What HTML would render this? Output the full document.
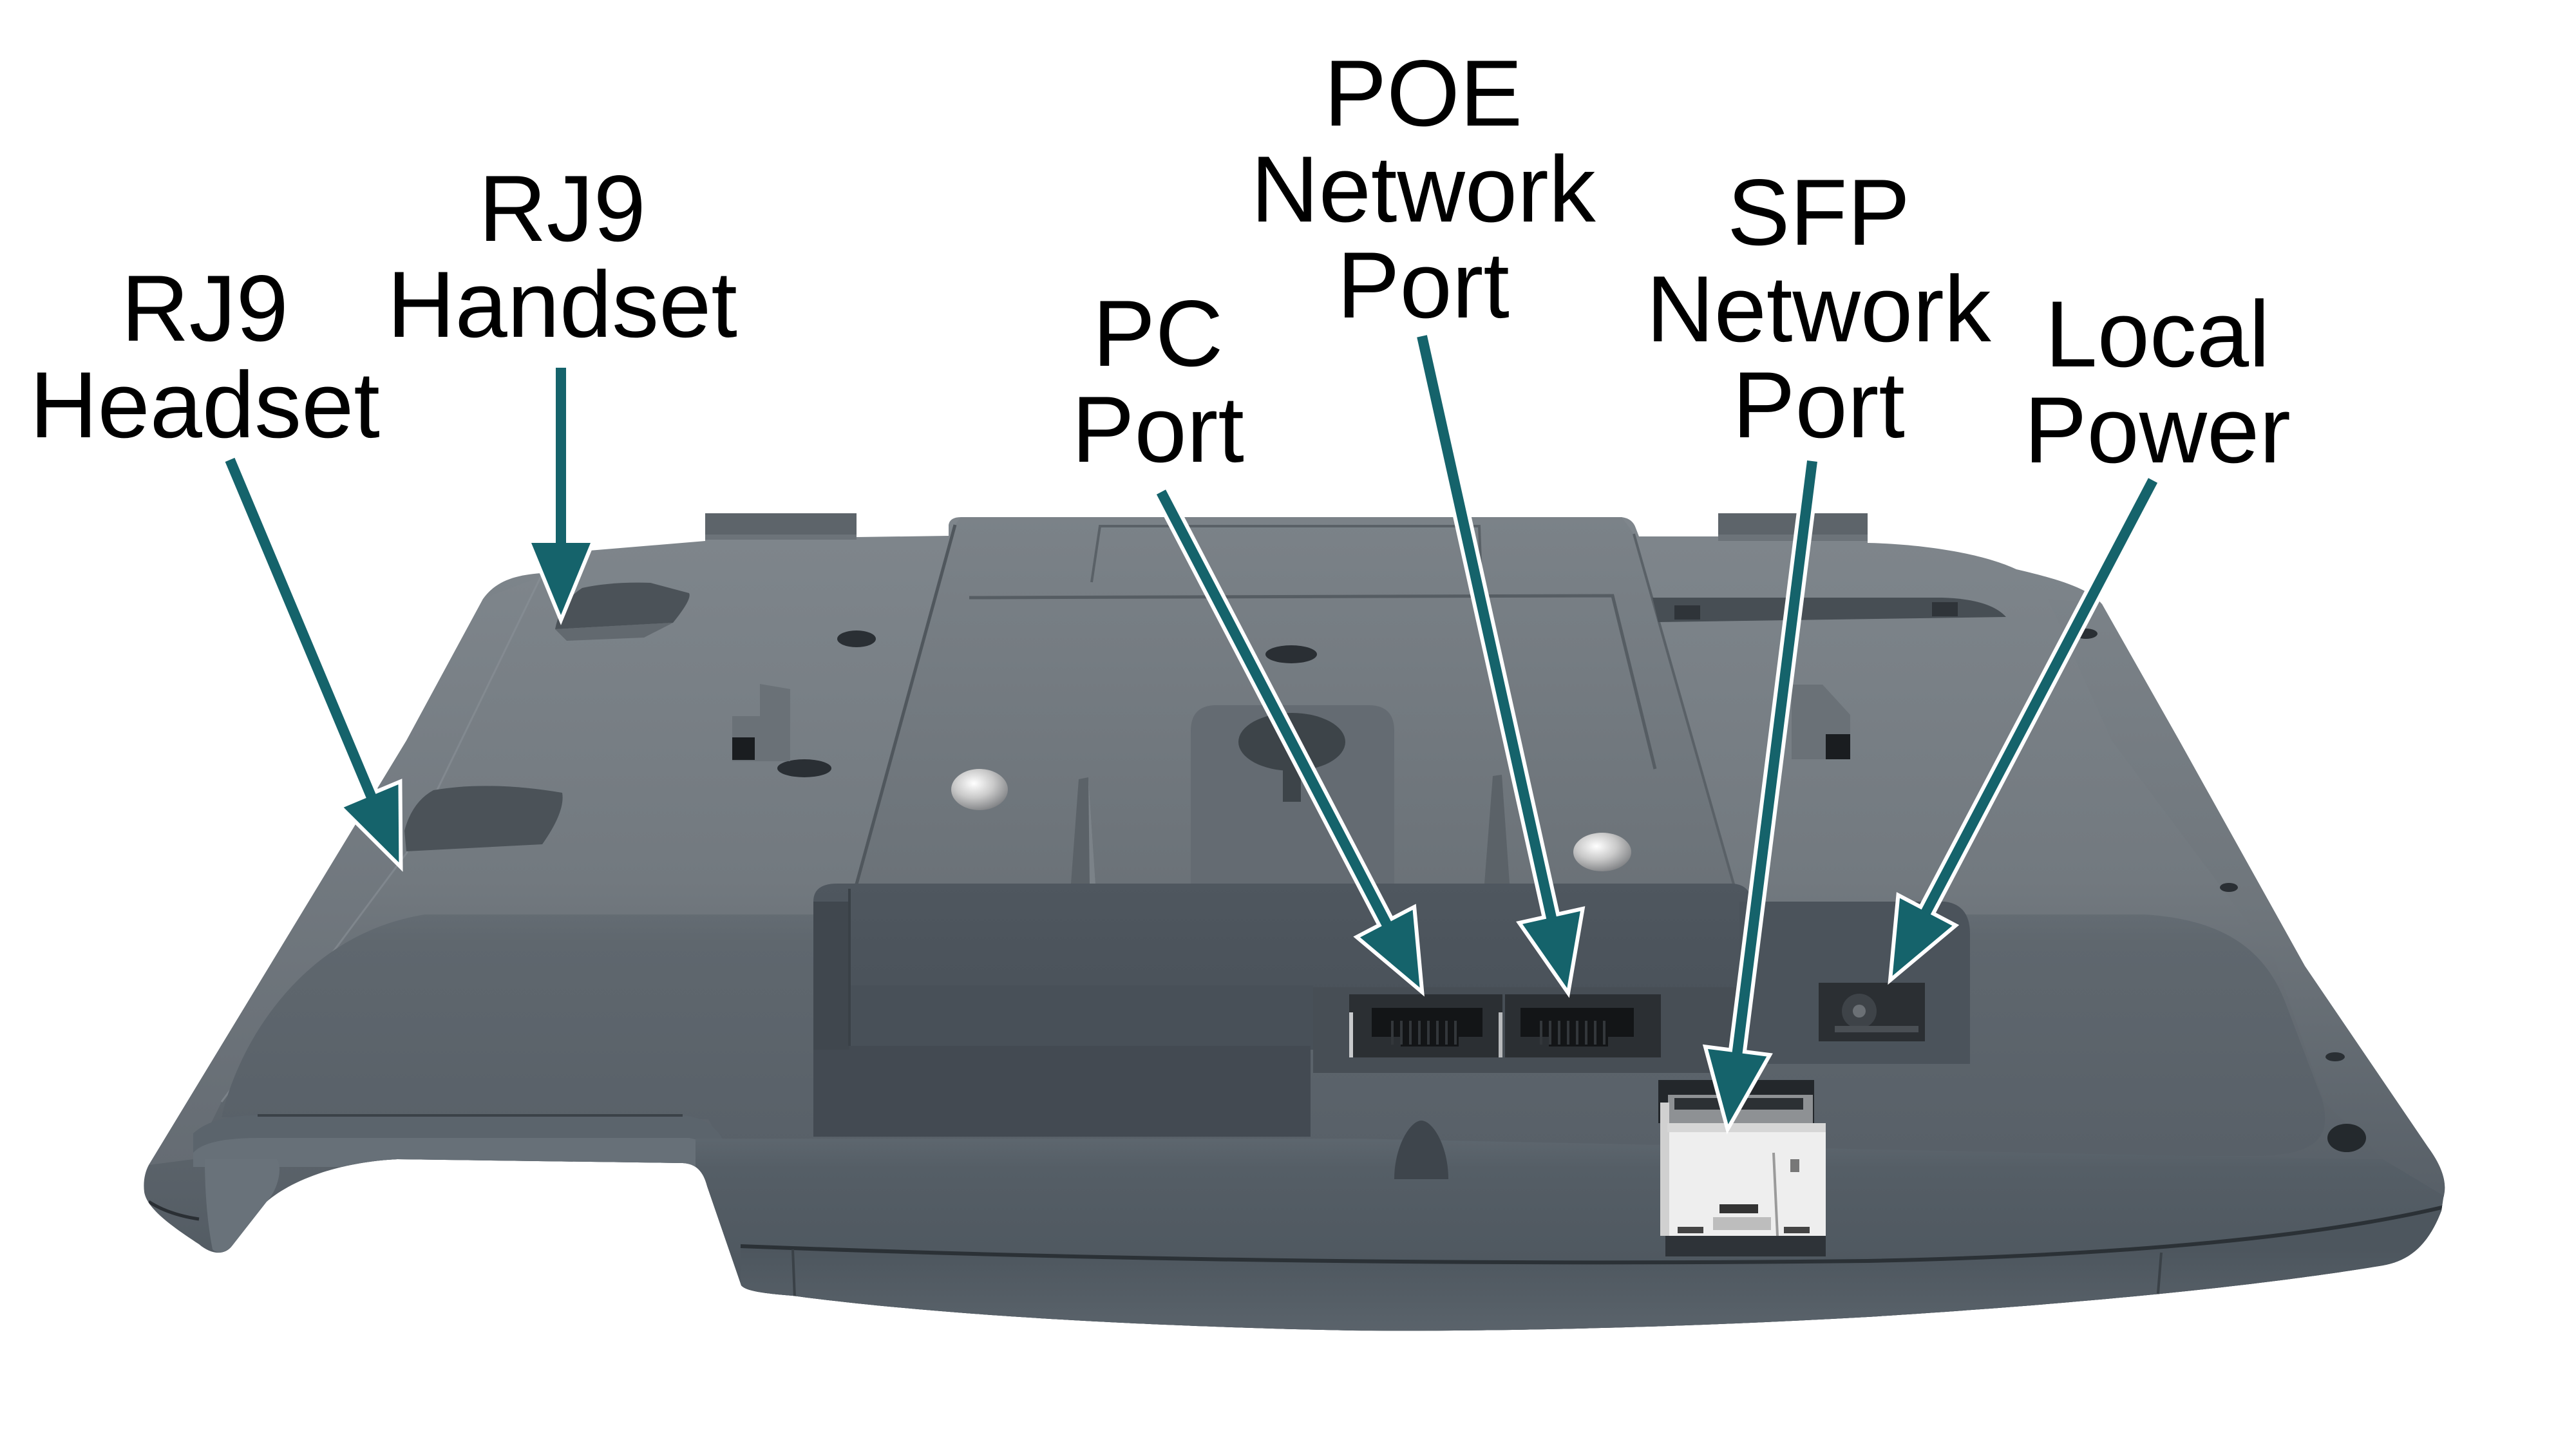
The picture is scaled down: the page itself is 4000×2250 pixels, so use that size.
<!DOCTYPE html>
<html><head><meta charset="utf-8">
<style>
html,body{margin:0;padding:0;background:#fff;}
svg{display:block;}
.lbl{font-family:"Liberation Sans",Arial,sans-serif;font-size:146px;fill:#000;text-anchor:middle;}
</style></head><body>
<svg width="4000" height="2250" viewBox="0 0 4000 2250" xmlns="http://www.w3.org/2000/svg">
<defs>
<linearGradient id="shell" x1="0" y1="797" x2="0" y2="2066" gradientUnits="userSpaceOnUse">
 <stop offset="0" stop-color="#7f868c"/>
 <stop offset="0.45" stop-color="#72797f"/>
 <stop offset="0.62" stop-color="#646b72"/>
 <stop offset="1" stop-color="#4e575f"/>
</linearGradient>
<linearGradient id="bulge" x1="0" y1="1418" x2="0" y2="1795" gradientUnits="userSpaceOnUse">
 <stop offset="0" stop-color="#646c73"/>
 <stop offset="0.12" stop-color="#5f676e"/>
 <stop offset="1" stop-color="#586068"/>
</linearGradient>
<linearGradient id="front" x1="0" y1="1765" x2="0" y2="1960" gradientUnits="userSpaceOnUse">
 <stop offset="0" stop-color="#5e676f"/>
 <stop offset="0.25" stop-color="#555e66"/>
 <stop offset="1" stop-color="#4f5860"/>
</linearGradient>
<linearGradient id="bottom" x1="0" y1="1940" x2="0" y2="2066" gradientUnits="userSpaceOnUse">
 <stop offset="0" stop-color="#4d565e"/>
 <stop offset="1" stop-color="#5a636b"/>
</linearGradient>
<linearGradient id="rimL" x1="0" y1="900" x2="0" y2="1810" gradientUnits="userSpaceOnUse">
 <stop offset="0" stop-color="#7e858b"/>
 <stop offset="1" stop-color="#656c73"/>
</linearGradient>
<linearGradient id="rimR" x1="0" y1="930" x2="0" y2="1870" gradientUnits="userSpaceOnUse">
 <stop offset="0" stop-color="#7b8288"/>
 <stop offset="0.5" stop-color="#6f767c"/>
 <stop offset="1" stop-color="#575f67"/>
</linearGradient>
<linearGradient id="plate" x1="0" y1="803" x2="0" y2="1372" gradientUnits="userSpaceOnUse">
 <stop offset="0" stop-color="#7b8288"/>
 <stop offset="1" stop-color="#6b7278"/>
</linearGradient>
<linearGradient id="blockTop" x1="0" y1="1372" x2="0" y2="1624" gradientUnits="userSpaceOnUse">
 <stop offset="0" stop-color="#4f575f"/>
 <stop offset="1" stop-color="#485058"/>
</linearGradient>
<radialGradient id="screw" cx="0.4" cy="0.35" r="0.7">
 <stop offset="0" stop-color="#ffffff"/>
 <stop offset="0.5" stop-color="#c9c9c9"/>
 <stop offset="1" stop-color="#7d7f82"/>
</radialGradient>
<clipPath id="bodyClip">
 <path id="bodyPath" d="M 750 930 C 770 902 800 893 840 890 C 870 883 890 860 915 855 L 1095 840 L 1095 797 L 1330 797 L 1330 834 L 1473 832 L 1473 815 Q 1475 803 1492 803 L 2518 803 Q 2535 805 2540 820 L 2545 833 L 2668 833 L 2668 797 L 2900 797 L 2900 843 C 2990 845 3080 860 3131 884 C 3200 900 3245 915 3264 938 L 3384 1150 L 3579 1500 L 3770 1781 C 3795 1815 3800 1840 3794 1860 L 3791 1880 C 3770 1935 3740 1958 3700 1965 C 3550 1990 3300 2020 2900 2045 C 2600 2062 2300 2068 2100 2066 C 1700 2058 1400 2035 1231 2012 C 1180 2008 1158 2004 1151 1996 L 1098 1842 C 1092 1818 1080 1807 1060 1806 L 617 1800 C 520 1805 450 1835 414 1866 L 360 1935 C 350 1948 330 1950 309 1932 C 260 1900 228 1875 224 1851 C 222 1835 225 1820 231 1809 L 631 1150 Z"/>
</clipPath>
</defs>

<rect width="4000" height="2250" fill="#ffffff"/>

<!-- body -->
<g clip-path="url(#bodyClip)">
 <rect x="0" y="780" width="4000" height="1300" fill="url(#shell)"/>
 <!-- left rim -->
 <path d="M 750 930 L 631 1150 L 231 1809 L 300 1800 L 344 1711 L 631 1325 L 840 895 Z" fill="url(#rimL)"/>
 <path d="M 344 1711 L 631 1325 L 840 895" fill="none" stroke="#8a9197" stroke-width="3" opacity="0.6"/>
 <!-- right rim -->
 <path d="M 3180 930 L 3264 938 L 3384 1150 L 3579 1500 L 3770 1781 C 3795 1815 3800 1840 3794 1860 L 3700 1800 L 3609 1711 L 3531 1487 L 3279 1150 Z" fill="url(#rimR)"/>
 <!-- lower bulge -->
 <path d="M 344 1735 C 370 1620 470 1450 660 1420 L 3330 1420 C 3460 1428 3520 1480 3550 1560 L 3605 1705 C 3625 1770 3590 1795 3500 1795 L 1130 1795 L 1100 1738 Z" fill="url(#bulge)"/>
 <!-- lip -->
 <path d="M 300 1760 Q 330 1732 400 1732 L 1060 1732 Q 1100 1735 1120 1765 L 1140 1800 L 1100 1810 L 300 1810 Z" fill="#5b646c"/>
 <path d="M 300 1790 Q 320 1767 400 1767 L 1070 1767 Q 1100 1772 1115 1800 L 1100 1812 L 300 1812 Z" fill="#677078"/>
 <path d="M 400 1732 L 1060 1732" stroke="#3b4248" stroke-width="4" fill="none"/>
 <!-- foot inner face -->
 <path d="M 318 1800 L 430 1800 C 440 1815 430 1850 414 1866 L 360 1935 C 350 1945 338 1948 330 1940 C 322 1900 318 1850 318 1800 Z" fill="#69727a"/>
 <path d="M 231 1866 Q 262 1886 309 1893" stroke="#2a2f34" stroke-width="5" fill="none"/>
 <!-- front band -->
 <path d="M 1080 1768 L 2100 1768 L 3400 1795 L 3700 1800 L 3800 1860 L 3800 2250 L 1080 2250 Z" fill="url(#front)"/>
 <!-- bottom piece -->
 <path d="M 1150 1935 Q 2000 1968 2900 1958 Q 3500 1945 3800 1873 L 3800 2250 L 1150 2250 Z" fill="url(#bottom)"/>
 <path d="M 1150 1935 Q 2000 1968 2900 1958 Q 3500 1945 3800 1873" stroke="#2b3136" stroke-width="6" fill="none"/>
 <path d="M 1231 1940 L 1234 2015" stroke="#3a4147" stroke-width="4"/>
 <path d="M 3356 1945 L 3350 2020" stroke="#3a4147" stroke-width="4"/>

 <!-- plate -->
 <path d="M 1483 815 L 1492 803 L 2518 803 L 2537 829 L 2694 1372 L 1328 1372 Z" fill="url(#plate)"/>
 <path d="M 1483 815 L 1328 1380" stroke="#50575d" stroke-width="5" fill="none"/>
 <path d="M 2537 829 L 2694 1380" stroke="#5a6167" stroke-width="4" fill="none"/>
 <path d="M 1505 928 L 2504 925 L 2570 1194" stroke="#565d63" stroke-width="5" fill="none"/>
 <path d="M 1695 904 L 1708 817 L 2297 817 L 2300 900" stroke="#5a6167" stroke-width="4" fill="none"/>

 <!-- tabs -->
 <rect x="1095" y="797" width="235" height="40" fill="#5d646a"/>
 <rect x="1095" y="830" width="235" height="8" fill="#6c7379"/>
 <rect x="2668" y="797" width="232" height="40" fill="#5d646a"/>
 <rect x="2668" y="830" width="232" height="10" fill="#6c7379"/>

 <!-- right groove -->
 <path d="M 2566 928 L 3015 928 Q 3090 930 3115 958 L 2575 966 Z" fill="#474e54"/>
 <rect x="2600" y="940" width="40" height="22" fill="#2f3439"/>
 <rect x="3000" y="935" width="40" height="22" fill="#2f3439"/>

 <!-- handset/headset slots -->
 <path d="M 904 913 Q 950 903 1010 905 L 1070 921 Q 1075 930 1045 967 L 862 977 Q 870 935 904 913 Z" fill="#4b5258"/>
 <path d="M 862 977 L 1045 967 L 1000 990 L 880 995 Z" fill="#62696f"/>
 <path d="M 673 1227 Q 760 1212 873 1231 Q 878 1260 842 1311 L 631 1322 L 628 1290 Q 640 1245 673 1227 Z" fill="#4b5258"/>

 <!-- holes -->
 <ellipse cx="1330" cy="992" rx="30" ry="13" fill="#2a2f34"/>
 <ellipse cx="1249" cy="1193" rx="42" ry="14" fill="#2a2f34"/>
 <ellipse cx="2005" cy="1016" rx="40" ry="14" fill="#2a2f34"/>
 <ellipse cx="3239" cy="984" rx="18" ry="8" fill="#2a2f34"/>
 <ellipse cx="3461" cy="1378" rx="14" ry="7" fill="#2a2f34"/>
 <ellipse cx="3626" cy="1641" rx="15" ry="7" fill="#2a2f34"/>
 <ellipse cx="3644" cy="1767" rx="30" ry="22" fill="#24292d"/>

 <!-- hooks -->
 <path d="M 1180 1062 L 1227 1070 L 1227 1182 L 1137 1182 L 1137 1112 L 1180 1112 Z" fill="#6a7177"/>
 <rect x="1137" y="1145" width="35" height="35" fill="#1a1d20"/>
 <path d="M 2782 1063 L 2830 1063 L 2873 1110 L 2873 1179 L 2782 1179 Z" fill="#6a7177"/>
 <rect x="2835" y="1140" width="38" height="39" fill="#1a1d20"/>

 <!-- keyhole block -->
 <path d="M 1849 1372 L 1849 1135 Q 1849 1095 1889 1095 L 2125 1095 Q 2165 1095 2165 1135 L 2165 1372 Z" fill="#646b72"/>
 <ellipse cx="2006" cy="1152" rx="83" ry="45" fill="#3d4449"/>
 <rect x="1992" y="1185" width="28" height="60" fill="#3d4449"/>

 <!-- screws -->
 <ellipse cx="1521" cy="1226" rx="44" ry="32" fill="url(#screw)"/>
 <ellipse cx="2488" cy="1323" rx="45" ry="30" fill="url(#screw)"/>

 <!-- pins -->
 <path d="M 1663 1372 L 1675 1210 L 1690 1207 L 1701 1372 Z" fill="#5b6268"/>
 <path d="M 1690 1207 L 1701 1372 L 1692 1372 Z" fill="#7b8288"/>
 <path d="M 2305 1372 L 2318 1205 L 2332 1203 L 2344 1372 Z" fill="#5b6268"/>

 <!-- dark stand block -->
 <path d="M 1263 1400 Q 1263 1372 1300 1372 L 2690 1372 Q 2720 1374 2720 1405 L 2720 1533 L 1263 1533 Z" fill="url(#blockTop)"/>
 <rect x="1263" y="1530" width="776" height="100" fill="#485058"/>
 <rect x="1263" y="1624" width="772" height="141" fill="#434a52"/>
 <rect x="1263" y="1400" width="56" height="230" fill="#40474e"/>
 <path d="M 1319 1380 L 1319 1624" stroke="#3a4147" stroke-width="4"/>

 <!-- power recess -->
 <path d="M 2701 1400 L 3020 1400 Q 3059 1405 3059 1450 L 3059 1652 L 2701 1652 Z" fill="#4b535b"/>
 <rect x="2824" y="1526" width="165" height="91" fill="#2b2f33"/>
 <circle cx="2887" cy="1570" r="27" fill="#3e4348"/>
 <circle cx="2887" cy="1570" r="10" fill="#6b7075"/>
 <rect x="2849" y="1593" width="130" height="10" fill="#4a4f54"/>

 <!-- port recess panel -->
 <rect x="2039" y="1533" width="662" height="133" fill="#474e55"/>
 <rect x="2095" y="1544" width="238" height="98" fill="#2b2f33"/>
 <rect x="2337" y="1544" width="242" height="98" fill="#2b2f33"/>
 <rect x="2130" y="1565" width="172" height="45" fill="#131517"/>
 <rect x="2175" y="1600" width="90" height="25" fill="#131517"/>
 <rect x="2361" y="1565" width="176" height="45" fill="#131517"/>
 <rect x="2405" y="1600" width="92" height="25" fill="#131517"/>
 <g stroke="#33373b" stroke-width="4">
  <path d="M 2162 1585 L 2162 1622 M 2176 1585 L 2176 1622 M 2190 1585 L 2190 1622 M 2204 1585 L 2204 1622 M 2218 1585 L 2218 1622 M 2232 1585 L 2232 1622 M 2246 1585 L 2246 1622 M 2260 1585 L 2260 1622"/>
  <path d="M 2393 1585 L 2393 1622 M 2407 1585 L 2407 1622 M 2421 1585 L 2421 1622 M 2435 1585 L 2435 1622 M 2449 1585 L 2449 1622 M 2463 1585 L 2463 1622 M 2477 1585 L 2477 1622 M 2491 1585 L 2491 1622"/>
 </g>
 <rect x="2095" y="1572" width="6" height="70" fill="#c8cacc"/>
 <rect x="2327" y="1572" width="6" height="70" fill="#b8babc"/>

 <!-- cone bump -->
 <path d="M 2165 1831 C 2165 1780 2190 1740 2207 1740 C 2225 1740 2249 1780 2249 1831 Z" fill="#3e454c"/>

 <!-- SFP module -->
 <rect x="2575" y="1677" width="242" height="67" fill="#23272b"/>
 <rect x="2590" y="1700" width="225" height="44" fill="#8e9194"/>
 <rect x="2600" y="1705" width="200" height="18" fill="#2c3034"/>
 <rect x="2586" y="1919" width="249" height="32" fill="#2e3338"/>
 <rect x="2589" y="1744" width="246" height="175" fill="#eeeeee"/>
 <rect x="2578" y="1712" width="14" height="207" fill="#d0d0d0"/>
 <rect x="2589" y="1744" width="246" height="14" fill="#d6d6d6"/>
 <path d="M 2754 1790 L 2760 1919" stroke="#9a9a9a" stroke-width="4"/>
 <rect x="2670" y="1870" width="60" height="14" fill="#333"/>
 <rect x="2660" y="1890" width="90" height="20" fill="#bdbdbd"/>
 <rect x="2605" y="1905" width="40" height="10" fill="#444"/>
 <rect x="2770" y="1905" width="40" height="10" fill="#444"/>
 <rect x="2780" y="1800" width="14" height="20" fill="#777"/>
</g>

<!-- arrows -->
<g transform="translate(357 714) rotate(67.23)">
 <line x1="0" y1="0" x2="580" y2="0" stroke="#fff" stroke-width="28"/>
 <polygon points="678,0 566,-46 566,46" fill="#fff" stroke="#fff" stroke-width="12"/>
 <line x1="0" y1="0" x2="580" y2="0" stroke="#15636b" stroke-width="16"/>
 <polygon points="678,0 566,-46 566,46" fill="#15636b"/>
</g>
<g transform="translate(871 571) rotate(90)">
 <line x1="0" y1="0" x2="286" y2="0" stroke="#fff" stroke-width="28"/>
 <polygon points="384,0 272,-46 272,46" fill="#fff" stroke="#fff" stroke-width="12"/>
 <line x1="0" y1="0" x2="286" y2="0" stroke="#15636b" stroke-width="16"/>
 <polygon points="384,0 272,-46 272,46" fill="#15636b"/>
</g>
<g transform="translate(1803 764) rotate(62.44)">
 <line x1="0" y1="0" x2="770" y2="0" stroke="#fff" stroke-width="28"/>
 <polygon points="868,0 756,-46 756,46" fill="#fff" stroke="#fff" stroke-width="12"/>
 <line x1="0" y1="0" x2="770" y2="0" stroke="#15636b" stroke-width="16"/>
 <polygon points="868,0 756,-46 756,46" fill="#15636b"/>
</g>
<g transform="translate(2208 522) rotate(77.45)">
 <line x1="0" y1="0" x2="939" y2="0" stroke="#fff" stroke-width="28"/>
 <polygon points="1037,0 925,-46 925,46" fill="#fff" stroke="#fff" stroke-width="12"/>
 <line x1="0" y1="0" x2="939" y2="0" stroke="#15636b" stroke-width="16"/>
 <polygon points="1037,0 925,-46 925,46" fill="#15636b"/>
</g>
<g transform="translate(2814 716) rotate(97.22)">
 <line x1="0" y1="0" x2="940" y2="0" stroke="#fff" stroke-width="28"/>
 <polygon points="1038,0 926,-46 926,46" fill="#fff" stroke="#fff" stroke-width="12"/>
 <line x1="0" y1="0" x2="940" y2="0" stroke="#15636b" stroke-width="16"/>
 <polygon points="1038,0 926,-46 926,46" fill="#15636b"/>
</g>
<g transform="translate(3343 746) rotate(117.73)">
 <line x1="0" y1="0" x2="771" y2="0" stroke="#fff" stroke-width="28"/>
 <polygon points="869,0 757,-46 757,46" fill="#fff" stroke="#fff" stroke-width="12"/>
 <line x1="0" y1="0" x2="771" y2="0" stroke="#15636b" stroke-width="16"/>
 <polygon points="869,0 757,-46 757,46" fill="#15636b"/>
</g>

<!-- labels -->
<text class="lbl" x="318" y="529">RJ9</text>
<text class="lbl" x="318" y="679">Headset</text>
<text class="lbl" x="873" y="374">RJ9</text>
<text class="lbl" x="873" y="523">Handset</text>
<text class="lbl" x="1798" y="568">PC</text>
<text class="lbl" x="1798" y="717">Port</text>
<text class="lbl" x="2210" y="195">POE</text>
<text class="lbl" x="2210" y="344">Network</text>
<text class="lbl" x="2210" y="493">Port</text>
<text class="lbl" x="2824" y="380">SFP</text>
<text class="lbl" x="2824" y="530">Network</text>
<text class="lbl" x="2824" y="679">Port</text>
<text class="lbl" x="3350" y="569">Local</text>
<text class="lbl" x="3350" y="718">Power</text>
</svg>
</body></html>
